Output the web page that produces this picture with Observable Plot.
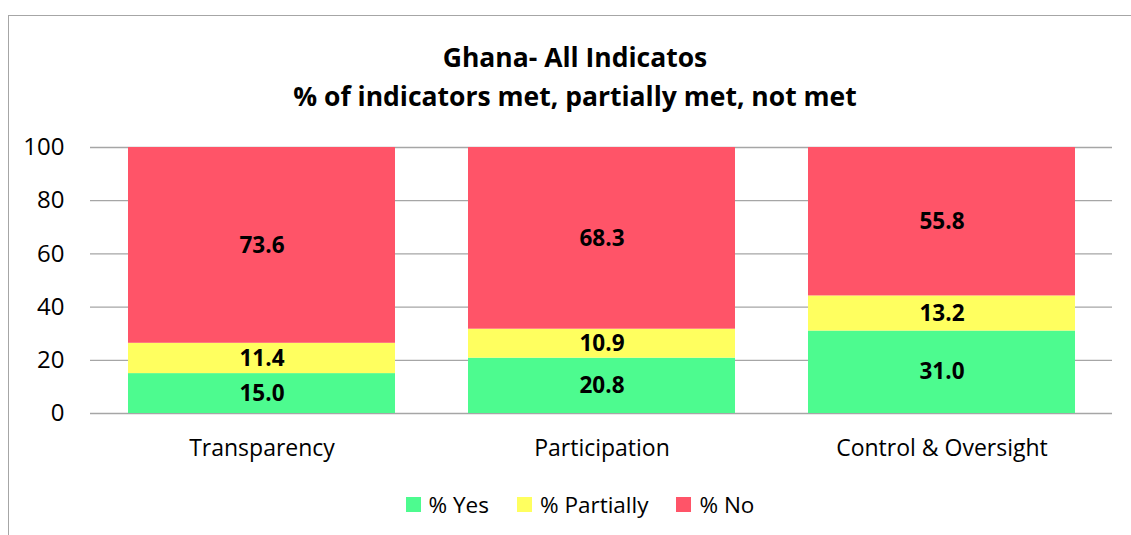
<!DOCTYPE html>
<html>
<head>
<meta charset="utf-8">
<script src="https://cdn.jsdelivr.net/npm/d3@7"></script>
<script src="https://cdn.jsdelivr.net/npm/@observablehq/plot@0.6"></script>
<style>
  html, body { margin: 0; padding: 0; background: #fff; }
  body { width: 1131px; height: 535px; position: relative; overflow: hidden; font-family: "Open Sans", "Liberation Sans", sans-serif; }
  #frame { position: absolute; left: 8px; top: 15px; width: 1140px; height: 560px; border: 1px solid #a6a6a6; box-sizing: border-box; }
  #title { position: absolute; left: 0; top: 38px; width: 1150px; text-align: center; font-weight: bold; font-size: 26.5px; line-height: 39px; color: #000; }
  #chart { position: absolute; left: 0; top: 125px; }
  #legend { position: absolute; left: 0; top: 489px; width: 1160px; display: flex; justify-content: center; gap: 28px; font-size: 22.5px; color: #000; }
  .item { display: flex; align-items: center; gap: 8px; }
  .sw { width: 15px; height: 15px; display: inline-block; }
</style>
</head>
<body>
<div id="frame"></div>
<div id="title">Ghana- All Indicatos<br>% of indicators met, partially met, not met</div>
<div id="chart"></div>
<div id="legend"></div>
<script>
const categories = ["Transparency", "Participation", "Control & Oversight"];
const seriesNames = ["% Yes", "% Partially", "% No"];
const yesValues = [15.0, 20.8, 31.0];
const partiallyValues = [11.4, 10.9, 13.2];
const noValues = [73.6, 68.3, 55.8];
const yTicks = [0, 20, 40, 60, 80, 100];
const colors = ["#4DFB8F", "#FFFF5F", "#FF5468"];

const seriesValues = [yesValues, partiallyValues, noValues];
const data = [];
seriesNames.forEach((s, si) => {
  categories.forEach((c, ci) => {
    data.push({category: c, series: s, value: seriesValues[si][ci]});
  });
});

const plot = Plot.plot({
  width: 1131,
  height: 345,
  marginTop: 22,
  marginBottom: 57,
  marginLeft: 90,
  marginRight: 19,
  style: {fontFamily: "'Open Sans', 'Liberation Sans', sans-serif", fontSize: "20px", color: "#000", background: "transparent"},
  x: {domain: categories, label: null, paddingInner: 0.216, paddingOuter: 0.108, tickSize: 0, tickPadding: 26},
  y: {domain: [0, 100], ticks: yTicks, label: null, tickSize: 0, tickPadding: 26},
  color: {domain: seriesNames, range: colors},
  marks: [
    Plot.ruleY(yTicks, {stroke: "#a6a6a6", strokeWidth: 1.3}),
    Plot.barY(data, {x: "category", y: "value", fill: "series", order: seriesNames}),
    Plot.textY(data, Plot.stackY({x: "category", y: "value", z: "series", order: seriesNames, text: d => d.value.toFixed(1), fill: "#000", fontWeight: "bold", fontSize: 22.5})),
    Plot.axisX({fontSize: 23, tickSize: 0, tickPadding: 26, label: null}),
    Plot.axisY({ticks: yTicks, fontSize: 24, tickSize: 0, tickPadding: 26, label: null})
  ]
});
document.getElementById("chart").appendChild(plot);

const legend = document.getElementById("legend");
seriesNames.forEach((s, i) => {
  const it = document.createElement("div");
  it.className = "item";
  const sw = document.createElement("span");
  sw.className = "sw";
  sw.style.background = colors[i];
  const t = document.createElement("span");
  t.textContent = s;
  it.appendChild(sw); it.appendChild(t);
  legend.appendChild(it);
});
</script>
</body>
</html>
